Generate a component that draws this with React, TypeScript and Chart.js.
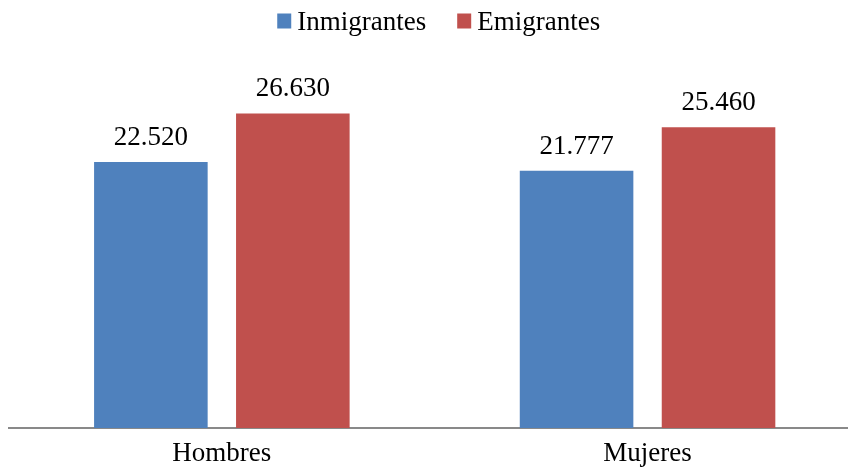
import React, { useEffect, useRef } from "react";
import { Chart, registerables } from "chart.js";

Chart.register(...registerables);

const categories = ["Hombres", "Mujeres"];
const seriesNames = ["Inmigrantes", "Emigrantes"];
const inmigrantes = [22520, 21777];
const emigrantes = [26630, 25460];
const seriesColors = ["#4F81BD", "#C0504D"];

const FONT_FAMILY = "'Liberation Serif', 'Times New Roman', serif";
const FONT_SIZE = 27;

const fmt = (v: number) => new Intl.NumberFormat("de-DE").format(v);

// Value labels above every bar
const valueLabels = {
  id: "valueLabels",
  afterDatasetsDraw(chart: any) {
    const ctx = chart.ctx;
    ctx.save();
    ctx.font = `${FONT_SIZE}px ${FONT_FAMILY}`;
    ctx.fillStyle = "#000";
    ctx.textAlign = "center";
    ctx.textBaseline = "alphabetic";
    chart.data.datasets.forEach((ds: any, di: number) => {
      const meta = chart.getDatasetMeta(di);
      meta.data.forEach((bar: any, i: number) => {
        ctx.fillText(fmt(ds.data[i]), bar.x, bar.y - 17);
      });
    });
    ctx.restore();
  },
};

// Legend row at the top: small squares followed by the series name
const topLegend = {
  id: "topLegend",
  afterDraw(chart: any) {
    const ctx = chart.ctx;
    ctx.save();
    ctx.font = `${FONT_SIZE}px ${FONT_FAMILY}`;
    const box = 14;
    const boxGap = 6;
    const itemGap = 31;
    const items = chart.data.datasets.map((ds: any) => ({
      label: ds.label,
      color: ds.backgroundColor,
      w: ctx.measureText(ds.label).width,
    }));
    const total =
      items.reduce((s: number, it: any) => s + box + boxGap + it.w, 0) +
      itemGap * (items.length - 1);
    const area = chart.chartArea;
    let x = (area.left + area.right) / 2 + 4 - total / 2;
    const baseline = 29.5;
    items.forEach((it: any) => {
      ctx.fillStyle = it.color;
      ctx.fillRect(x, 13.5, box, 15);
      x += box + boxGap;
      ctx.fillStyle = "#000";
      ctx.textAlign = "left";
      ctx.textBaseline = "alphabetic";
      ctx.fillText(it.label, x, baseline);
      x += it.w + itemGap;
    });
    ctx.restore();
  },
};

export default function App() {
  const canvasRef = useRef<HTMLCanvasElement | null>(null);

  useEffect(() => {
    if (!canvasRef.current) return;
    const chart = new Chart(canvasRef.current, {
      type: "bar",
      data: {
        labels: categories,
        datasets: [
          {
            label: seriesNames[0],
            data: inmigrantes,
            backgroundColor: seriesColors[0],
            categoryPercentage: 0.667,
            barPercentage: 0.8,
          },
          {
            label: seriesNames[1],
            data: emigrantes,
            backgroundColor: seriesColors[1],
            categoryPercentage: 0.667,
            barPercentage: 0.8,
          },
        ],
      },
      options: {
        responsive: false,
        animation: false,
        layout: { padding: { top: 73.7, left: 9, right: 9.6, bottom: 0 } },
        plugins: {
          legend: { display: false },
          tooltip: { enabled: false },
        },
        scales: {
          x: {
            grid: { display: false, drawTicks: false },
            border: { display: true, color: "#898989", width: 2 },
            ticks: {
              color: "#000",
              padding: 10,
              font: { family: FONT_FAMILY, size: FONT_SIZE },
            },
            afterFit: (scale: any) => {
              scale.height = 48;
            },
          },
          y: {
            display: false,
            min: 0,
            max: 30000,
          },
        },
      },
      plugins: [valueLabels, topLegend],
    });
    return () => chart.destroy();
  }, []);

  return (
    <div
      style={{
        position: "fixed",
        left: 0,
        top: 0,
        width: 848,
        height: 476,
        overflow: "hidden",
        background: "#fff",
      }}
    >
      <canvas
        ref={canvasRef}
        width={870}
        height={476}
        style={{ display: "block", width: 870, height: 476 }}
      />
    </div>
  );
}
